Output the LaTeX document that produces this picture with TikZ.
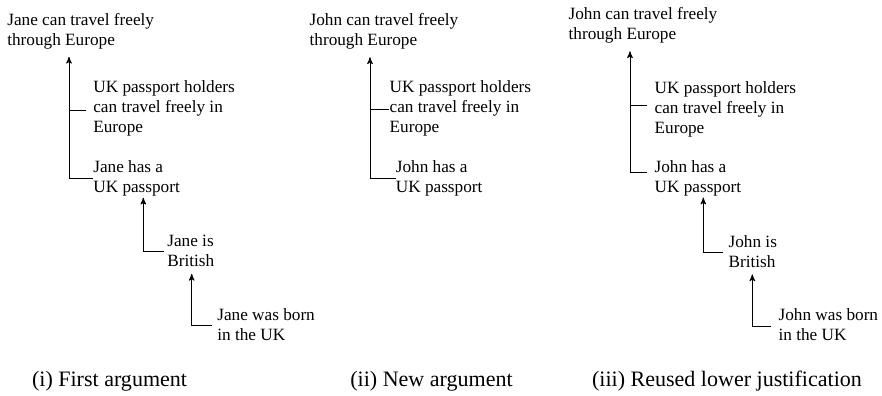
\documentclass[tikz,border=0pt]{standalone}
\usepackage{fontspec}
\setmainfont{Liberation Serif}
\usetikzlibrary{arrows, calc}

\begin{document}
\begin{tikzpicture}[
  x=0.581pt, y=-0.581pt,
  claim/.style={inner sep=0pt, anchor=north west, align=left, font=\fontsize{10pt}{11.6pt}\selectfont},
  caption/.style={inner sep=0pt, anchor=base west, font=\fontsize{12.8pt}{15pt}\selectfont},
  link/.style={line width=0.5pt},
  arrow/.style={->, >=stealth', line width=0.5pt},
]
\useasboundingbox (0,0) rectangle (882,395);

% (i) First argument
\node[claim] (janetravel) at (7,13.3) {Jane can travel freely\\through Europe};
\node[claim] (rulei) at (93,80) {UK passport holders\\can travel freely in\\Europe};
\node[claim] (janepass) at (93,160) {Jane has a\\UK passport};
\node[claim] (janebrit) at (167,235) {Jane is\\British};
\node[claim] (janeborn) at (217,308.3) {Jane was born\\in the UK};
\node[caption] (capi) at (31.7,386) {(i) First argument};

\draw[arrow] (janepass.west) -| ($(janetravel.south west)+(62,7)$);
\draw[link] ($(rulei.west)+(-7,2)$) -- +(-17,0);
\draw[arrow] ($(janebrit.west)+(-3.5,0.5)$) -| ($(janepass.south west)+(50.3,1.5)$);
\draw[arrow] ($(janeborn.west)+(-5,1)$) -| ($(janebrit.south west)+(24.7,6.6)$);

% (ii) New argument
\node[claim] (johntravel) at (309.3,13.3) {John can travel freely\\through Europe};
\node[claim] (ruleii) at (389.3,80) {UK passport holders\\can travel freely in\\Europe};
\node[claim] (johnpass) at (395.5,160) {John has a\\UK passport};
\node[caption] (capii) at (350,386) {(ii) New argument};

\draw[arrow] (johnpass.west) -| ($(johntravel.south west)+(60.7,7.5)$);
\draw[link] ($(ruleii.west)+(0,1.8)$) -- +(-19.3,0);

% (iii) Reused lower justification
\node[claim] (reusetravel) at (568.3,6.8) {John can travel freely\\through Europe};
\node[claim] (ruleiii) at (654.3,80.8) {UK passport holders\\can travel freely in\\Europe};
\node[claim] (reusepass) at (654.3,160) {John has a\\UK passport};
\node[claim] (reusebrit) at (728.3,235) {John is\\British};
\node[claim] (reuseborn) at (778.3,308.3) {John was born\\in the UK};
\node[caption] (capiii) at (591.7,386) {(iii) Reused lower justification};

\draw[arrow] ($(reusepass.west)+(-7,-6.2)$) -| ($(reusetravel.south west)+(61.7,8)$);
\draw[link] ($(ruleiii.west)+(-7,-3.5)$) -- +(-17.3,0);
\draw[arrow] ($(reusebrit.west)+(-5,0.7)$) -| ($(reusepass.south west)+(49,1.3)$);
\draw[arrow] ($(reuseborn.west)+(-7.6,1.5)$) -| ($(reusebrit.south west)+(24,6.6)$);

\end{tikzpicture}
\end{document}
